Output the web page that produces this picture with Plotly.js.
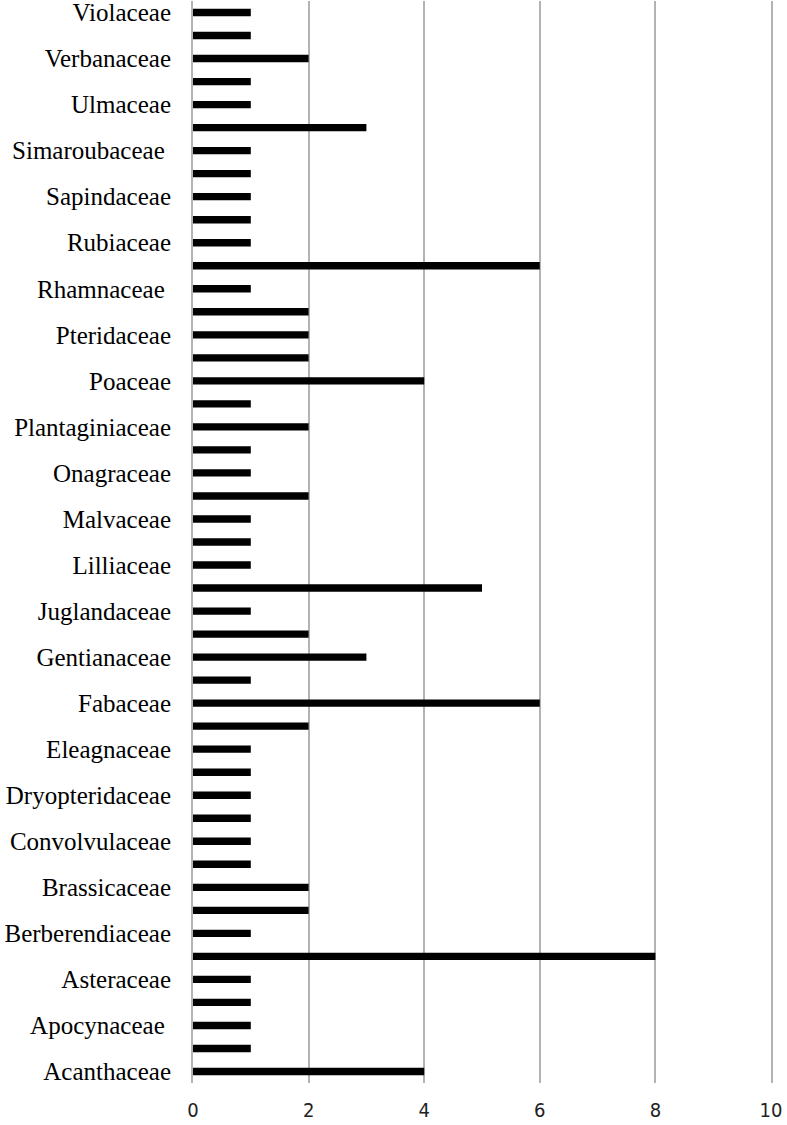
<!DOCTYPE html>
<html>
<head>
<meta charset="utf-8">
<script src="https://cdn.plot.ly/plotly-3.0.1.min.js"></script>
<style>
  html, body { margin: 0; padding: 0; background: #fff; }
  #chart { width: 787px; height: 1125px; }
</style>
</head>
<body>
<div id="chart"></div>
<script>
// plant families, bottom to top (every other one is labelled on the axis)
let families = [
    'Acanthaceae', 'Amaranthaceae', 'Apocynaceae', 'Araceae', 'Asteraceae',
    'Balsaminaceae', 'Berberendiaceae', 'Boraginaceae', 'Brassicaceae', 'Caryophyllaceae',
    'Convolvulaceae', 'Cyperaceae', 'Dryopteridaceae', 'Ebenaceae', 'Eleagnaceae',
    'Euphorbiaceae', 'Fabaceae', 'Fagaceae', 'Gentianaceae', 'Geraniaceae',
    'Juglandaceae', 'Lamiaceae', 'Lilliaceae', 'Lythraceae', 'Malvaceae',
    'Moraceae', 'Onagraceae', 'Oxalidaceae', 'Plantaginiaceae', 'Plumbaginaceae',
    'Poaceae', 'Polygonaceae', 'Pteridaceae', 'Ranunculaceae', 'Rhamnaceae',
    'Rosaceae', 'Rubiaceae', 'Salicaceae', 'Sapindaceae', 'Scrophulariaceae',
    'Simaroubaceae', 'Solanaceae', 'Ulmaceae', 'Urticaceae', 'Verbanaceae',
    'Viburnaceae', 'Violaceae'
];

let counts = [
    4, 1, 1, 1, 1,
    8, 1, 2, 2, 1,
    1, 1, 1, 1, 1,
    2, 6, 1, 3, 2,
    1, 5, 1, 1, 1,
    2, 1, 1, 2, 1,
    4, 2, 2, 2, 1,
    6, 1, 1, 1, 1,
    1, 3, 1, 1, 2,
    1, 1
];

let shownLabels = [];
let shownText = [];
for (let i = 0; i < families.length; i += 2) {
    shownLabels.push(families[i]);
    // a few labels in the original carry a trailing space
    shownText.push(families[i] + (families[i] === 'Simaroubaceae' || families[i] === 'Apocynaceae' || families[i] === 'Rhamnaceae' ? ' ' : ''));
}

let xTicks = [0, 2, 4, 6, 8, 10];

let data = [
    {
        x: counts,
        y: families,
        type: 'bar',
        orientation: 'h',
        marker: { color: '#000000' },
        hoverinfo: 'x+y'
    }
];

let layout = {
    width: 787,
    height: 1125,
    margin: { l: 193, r: 16, t: 1, b: 42 },
    paper_bgcolor: '#ffffff',
    plot_bgcolor: '#ffffff',
    bargap: 0.68,
    showlegend: false,
    xaxis: {
        range: [0, 10],
        tickvals: xTicks,
        ticktext: xTicks.map(String),
        showgrid: true,
        gridcolor: '#b3b3b3',
        gridwidth: 2,
        zeroline: false,
        showline: false,
        ticks: '',
        ticklabelstandoff: 13,
        tickfont: { family: '"Liberation Sans Narrow", "DejaVu Sans Condensed", sans-serif', size: 20, color: '#222222' }
    },
    yaxis: {
        type: 'category',
        categoryorder: 'array',
        categoryarray: families,
        range: [-0.5, families.length - 0.5],
        tickvals: shownLabels,
        ticktext: shownText,
        showgrid: false,
        zeroline: false,
        // vertical lines at x = 0 and x = 10 (edge gridlines)
        showline: true,
        mirror: true,
        linecolor: '#b3b3b3',
        linewidth: 2,
        ticks: '',
        ticklabelstandoff: 15,
        tickfont: { family: '"Liberation Serif", "Times New Roman", serif', size: 25, color: '#000000' }
    }
};

let config = { responsive: false, displayModeBar: false, staticPlot: true };

Plotly.newPlot('chart', data, layout, config);
</script>
</body>
</html>
